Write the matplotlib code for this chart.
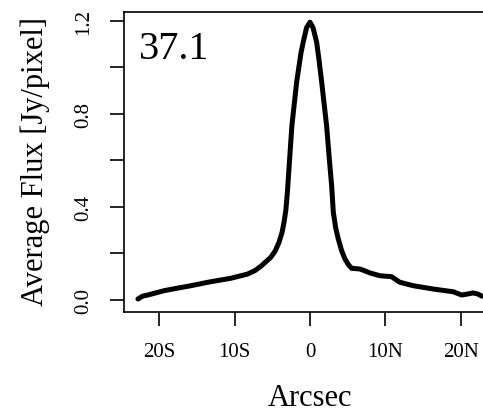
import matplotlib
matplotlib.use("Agg")
import matplotlib.pyplot as plt
import numpy as np

plt.rcParams['font.family'] = ['Liberation Serif', 'DejaVu Serif']

# profile (arcsec, Jy/pixel)
offset = [-22.8, -22.2, -21.5, -19.3, -17.5, -15.8, -13.2, -10.5, -8.3, -7.3,
          -6.5, -5.2, -4.6, -4.1, -3.7, -3.44, -3.2, -3.0, -2.4, -1.77,
          -1.2, -0.88, -0.45, 0.0, 0.4, 0.88, 1.2, 1.55, 2.2, 2.6,
          2.87, 3.09, 3.4, 3.75, 4.2, 4.64, 5.1, 5.52, 6.6, 7.2,
          7.95, 9.27, 10.8, 11.3, 11.9, 13.7, 16.3, 19.0, 20.1, 20.8,
          21.6, 22.2, 22.8]
flux = [0.003, 0.015, 0.02, 0.039, 0.05, 0.06, 0.077, 0.092, 0.11, 0.125,
        0.144, 0.182, 0.21, 0.247, 0.29, 0.333, 0.385, 0.46, 0.748, 0.935,
        1.06, 1.11, 1.17, 1.193, 1.17, 1.107, 1.03, 0.935, 0.748, 0.59,
        0.49, 0.376, 0.31, 0.261, 0.21, 0.175, 0.15, 0.135, 0.132, 0.125,
        0.115, 0.103, 0.099, 0.088, 0.075, 0.06, 0.046, 0.034, 0.02, 0.024,
        0.029, 0.025, 0.015]

xticks = [-20, -10, 0, 10, 20]
xticklabels = ['20S', '10S', '0', '10N', '20N']
yticks = [0.0, 0.2, 0.4, 0.6, 0.8, 1.0, 1.2]
yticklabels = ['0.0', '', '0.4', '', '0.8', '', '1.2']
label = '37.1'

fig = plt.figure(figsize=(4.83, 4.14), dpi=100)
ax = fig.add_axes([0.2567, 0.2447, 0.771, 0.724])

ax.plot(offset, flux, color='black', linewidth=3.6, solid_joinstyle='round',
        solid_capstyle='round')

ax.set_xlim(-24.65, 24.7)
ax.set_ylim(-0.0516, 1.237)

ax.set_xticks(xticks)
ax.set_xticklabels(xticklabels, fontsize=15)
ax.set_yticks(yticks)
ax.set_yticklabels(yticklabels, fontsize=15, rotation=90, va='center')
ax.tick_params(axis='both', direction='out', length=10, width=1.2, color='black')
ax.tick_params(axis='x', pad=12)
ax.tick_params(axis='y', pad=12)

for s in ax.spines.values():
    s.set_linewidth(1.2)

ax.set_xlabel('Arcsec', fontsize=22)
ax.xaxis.set_label_coords(0.5, -0.285)
ax.xaxis.label.set_va('center')
ax.set_ylabel('Average Flux [Jy/pixel]', fontsize=22)
ax.yaxis.set_label_coords(-0.239, 0.506)
ax.yaxis.label.set_va('center')

ax.text(0.040, 0.8465, label, transform=ax.transAxes, fontsize=29,
        ha='left', va='baseline')

fig.savefig('out.png', dpi=100)
